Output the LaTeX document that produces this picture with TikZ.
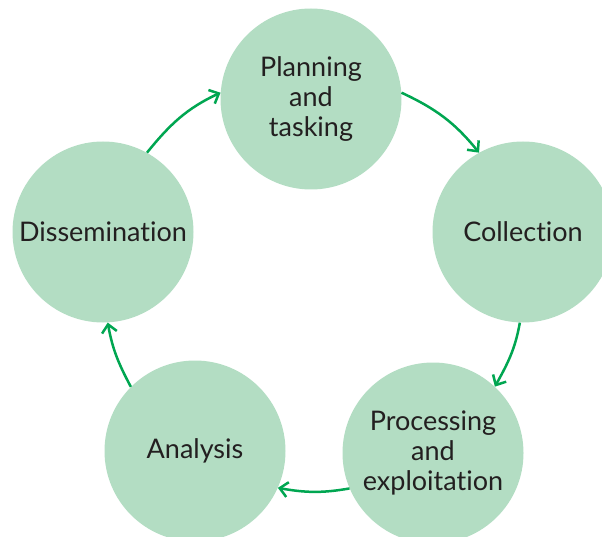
\documentclass[tikz,border=0pt]{standalone}
\usepackage{fontspec}
\setmainfont{Lato}[Ligatures=NoCommon]
\definecolor{StageFill}{RGB}{179,221,195}
\definecolor{CycleArrow}{RGB}{0,166,81}
\definecolor{StageText}{RGB}{35,31,32}
\usetikzlibrary{arrows.meta}
\tikzset{
    stage/.style={
        circle, fill=StageFill, draw=none, minimum size=181pt, inner sep=0pt,
        align=center, text=StageText, font=\fontsize{27}{30}\selectfont
    },
    cycle arrow/.style={
        draw=CycleArrow, line width=2.5pt,
        -{Straight Barb[length=8pt, width=15pt, line width=2.5pt]}
    }
}

\begin{document}
\begin{tikzpicture}[x=1pt, y=1pt]

\useasboundingbox (0,0) rectangle (602,-537);

% Etapas del ciclo.
\node[stage] (planning) at (311,-99) {Planning\\and\\tasking};
\node[stage] (collection) at (523,-232) {Collection};
\node[stage] (processing) at (433,-453) {Processing\\and\\exploitation};
\node[stage] (analysis) at (195,-451) {Analysis};
\node[stage] (dissemination) at (103,-232) {Dissemination};

% Flechas entre etapas, sobre un mismo arco.
\draw[cycle arrow] (dissemination.61) to[out=51, in=205] (planning.176);
\draw[cycle arrow] (planning.4) to[out=-25, in=129] (collection.119);
\draw[cycle arrow] (collection.268) to[out=-100, in=61] (processing.47);
\draw[cycle arrow] (processing.203) to[out=190, in=-10] (analysis.336);
\draw[cycle arrow] (analysis.135) to[out=118, in=-80] (dissemination.273);

\end{tikzpicture}
\end{document}
